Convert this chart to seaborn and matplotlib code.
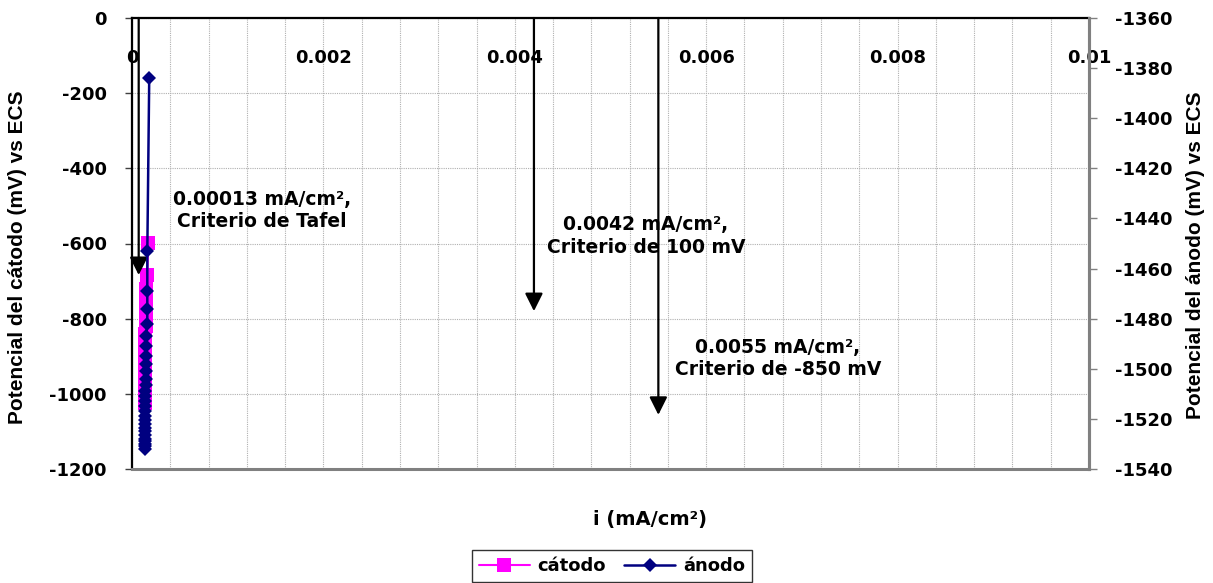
import numpy as np
import pandas as pd
import matplotlib
matplotlib.use("Agg")
import matplotlib.pyplot as plt
import seaborn as sns
from matplotlib.ticker import MultipleLocator, FixedLocator, FixedFormatter
from matplotlib.lines import Line2D

# ---------------- data ----------------
cat_i = [0.00017, 0.00016, 0.00015, 0.00015, 0.00015, 0.00015, 0.00015, 0.00014, 0.00014,
         0.00014, 0.00014, 0.00014, 0.00014, 0.00014, 0.00014, 0.00014, 0.00014, 0.00014,
         0.00014, 0.00014, 0.00014, 0.00014, 0.00014, 0.00014, 0.00014]
cat_E = [-598, -684, -720, -750, -775, -800, -820, -840, -858, -875, -890, -905, -918,
         -930, -942, -953, -963, -973, -982, -991, -999, -1007, -1014, -1020, -1025]

an_i = [0.00018, 0.00016, 0.00016, 0.00016, 0.00016, 0.00015, 0.00015, 0.00015, 0.00015,
        0.00015, 0.00015, 0.00015, 0.00014, 0.00014, 0.00014, 0.00014, 0.00014, 0.00014,
        0.00014, 0.00014, 0.00014, 0.00014, 0.00014, 0.00014, 0.00014, 0.00014, 0.00014,
        0.00014]
an_E = [-1384, -1453, -1469, -1476, -1482, -1487, -1491, -1495, -1498, -1501, -1504,
        -1506.5, -1509, -1511, -1513, -1515, -1517, -1519, -1520.5, -1522, -1523.5,
        -1525, -1526.5, -1528, -1529, -1530, -1531, -1532]

arrow_x = [0.00007, 0.0042, 0.0055]
arrow_tip = [-684, -780, -1056]

note_text = ["0.00013 mA/cm\u00b2,\nCriterio de Tafel",
             "0.0042 mA/cm\u00b2,\nCriterio de 100 mV",
             "0.0055 mA/cm\u00b2,\nCriterio de -850 mV"]
note_x = [0.00136, 0.00537, 0.00675]
note_y = [-512, -581, -906]

x_ticks = [0, 0.002, 0.004, 0.006, 0.008, 0.01]
x_labels = ["0", "0.002", "0.004", "0.006", "0.008", "0.01"]
left_ticks = [0, -200, -400, -600, -800, -1000, -1200]
right_ticks = [-1360, -1380, -1400, -1420, -1440, -1460, -1480, -1500, -1520, -1540]

# ---------------- style ----------------
sns.set_style("white")
plt.rcParams['font.family'] = ['DejaVu Sans']
plt.rcParams['font.weight'] = 'bold'
for k in ['text.color', 'axes.labelcolor', 'xtick.color', 'ytick.color']:
    plt.rcParams[k] = 'black'
FS = 13
VFONT = ['Liberation Sans', 'DejaVu Sans']   # for rotated axis titles

fig = plt.figure(figsize=(12.13, 5.83), dpi=100)
ax = fig.add_axes([132/1213, 1 - 469/583, (1089 - 132)/1213, (469 - 18)/583])
ax2 = ax.twinx()

df_c = pd.DataFrame({"i": cat_i, "E": cat_E})
df_a = pd.DataFrame({"i": an_i, "E": an_E})

sns.lineplot(data=df_c, x="i", y="E", ax=ax, sort=False, estimator=None,
             color="#FF00FF", marker="s", markersize=10.5, markeredgewidth=0,
             linewidth=1.5, zorder=3)
sns.lineplot(data=df_a, x="i", y="E", ax=ax2, sort=False, estimator=None,
             color="#000080", marker="D", markersize=7.5, markeredgewidth=0,
             linewidth=1.8, zorder=3)

ax.set_xlim(0, 0.01)
ax.set_ylim(-1200, 0)
ax2.set_ylim(-1540, -1360)

# x ticks on top, labels inside plot
ax.xaxis.set_major_locator(FixedLocator(x_ticks))
ax.xaxis.set_major_formatter(FixedFormatter(x_labels))
ax.xaxis.set_minor_locator(MultipleLocator(0.0004))
ax.tick_params(axis='x', which='both', bottom=False, top=False, labelbottom=False,
               labeltop=True, length=0, pad=-35, labelsize=FS, labelcolor='black')
for lab in ax.get_xticklabels():
    lab.set_fontweight('bold')

ax.set_yticks(left_ticks)
ax.set_yticklabels([str(v) for v in left_ticks], fontsize=FS, fontweight='bold')
ax.tick_params(axis='y', left=True, length=5, width=1, color='#404040', direction='out',
               pad=13, labelcolor='black')
ax2.set_yticks(right_ticks)
ax2.set_yticklabels([str(v) for v in right_ticks], fontsize=FS, fontweight='bold')
ax2.tick_params(axis='y', right=True, length=6, width=1, color='#808080', direction='out',
                pad=13, labelcolor='black')

ax.grid(which='both', axis='x', color='#B0B0B0', linestyle=(0, (1, 1)), linewidth=0.8)
ax.grid(which='major', axis='y', color='#B0B0B0', linestyle=(0, (1, 1)), linewidth=0.8)
ax2.grid(False)
ax.set_axisbelow(True)

for s in ['left', 'top']:
    ax.spines[s].set_color('black')
    ax.spines[s].set_linewidth(1.6)
for s in ['right', 'bottom']:
    ax.spines[s].set_color('#808080')
    ax.spines[s].set_linewidth(2.2)
ax2.spines['right'].set_color('#808080')
ax2.spines['right'].set_linewidth(2.2)
ax2.spines['left'].set_visible(False)
ax2.spines['top'].set_visible(False)
ax2.spines['bottom'].set_visible(False)

ax.set_xlabel("")
ax.set_ylabel("Potencial del c\u00e1todo (mV) vs ECS", fontsize=15, fontweight='bold',
              family=VFONT, color='black')
ax2.set_ylabel("Potencial del \u00e1nodo (mV) vs ECS", fontsize=15, fontweight='bold',
               family=VFONT, color='black')
ax.yaxis.set_label_coords(-0.1097, 0.47)
ax2.yaxis.set_label_coords(1.101, 0.475)
fig.text(650/1213, 1 - 520/583, "i (mA/cm\u00b2)", ha='center', va='center',
         fontsize=14, fontweight='bold', color='black')

# arrows
for xa, yt in zip(arrow_x, arrow_tip):
    ax.annotate("", xy=(xa, yt), xytext=(xa, 0),
                arrowprops=dict(arrowstyle='-|>', color='black', lw=1.6,
                                mutation_scale=27, shrinkA=0, shrinkB=0),
                zorder=4, annotation_clip=False)

for t, xt, yt in zip(note_text, note_x, note_y):
    ax.text(xt, yt, t, ha='center', va='center', fontsize=13.5, fontweight='bold',
            linespacing=1.25, zorder=5, color='black')

handles = [Line2D([], [], color="#FF00FF", marker="s", markersize=10, markeredgewidth=0, lw=1.5),
           Line2D([], [], color="#000080", marker="D", markersize=7, markeredgewidth=0, lw=1.8)]
leg = fig.legend(handles, ["c\u00e1todo", "\u00e1nodo"], loc='center',
                 bbox_to_anchor=(612/1213, 1 - 566/583), ncol=2, frameon=True,
                 fancybox=False, edgecolor='black', handlelength=2.8, columnspacing=1.0,
                 handletextpad=0.45, borderpad=0.4, prop={'size': FS, 'weight': 'bold'})
leg.get_frame().set_linewidth(1.0)
for txt in leg.get_texts():
    txt.set_color('black')

ax2.set_zorder(ax.get_zorder() + 1)
ax2.patch.set_visible(False)

fig.savefig("out.png", dpi=100)
